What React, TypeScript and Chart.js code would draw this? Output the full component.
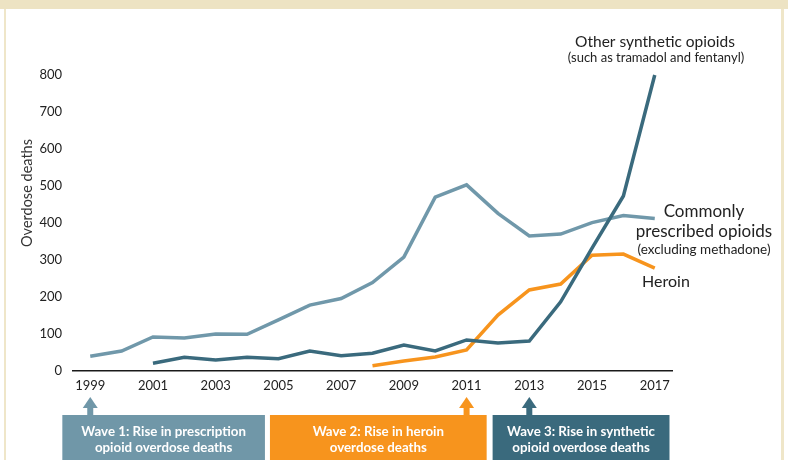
import React, { useEffect, useRef } from "react";
import { Chart, registerables } from "chart.js";

Chart.register(...registerables);

const years = [1999, 2000, 2001, 2002, 2003, 2004, 2005, 2006, 2007, 2008, 2009, 2010, 2011, 2012, 2013, 2014, 2015, 2016, 2017];
const tickYears = [1999, 2001, 2003, 2005, 2007, 2009, 2011, 2013, 2015, 2017];

const prescribed = [40, 54, 92, 89, 100, 99, 138, 178, 196, 239, 308, 470, 503, 426, 365, 370, 401, 420, 412];
const synthetic = [null, null, 21, 37, 30, 37, 33, 54, 41, 48, 70, 54, 84, 76, 81, 187, 332, 473, 800];
const heroin = [null, null, null, null, null, null, null, null, null, 14, 27, 38, 57, 151, 219, 235, 313, 316, 278];

const waves = [
  { year: 1999, from: 1998.11, to: 2004.57, lines: ["Wave 1: Rise in prescription", "opioid overdose deaths"], color: "#7097a8" },
  { year: 2011, from: 2004.73, to: 2011.64, lines: ["Wave 2: Rise in heroin", "overdose deaths"], color: "#f7941d" },
  { year: 2013, from: 2011.83, to: 2017.47, lines: ["Wave 3: Rise in synthetic", "opioid overdose deaths"], color: "#3a6a7d" },
];

const C_PRESC = "#7098aa";
const C_SYNTH = "#3a6a7d";
const C_HEROIN = "#f7941d";
const FONT = "Lato, 'Open Sans', sans-serif";

function pts(vals: (number | null)[]) {
  const out: { x: number; y: number }[] = [];
  vals.forEach((v, i) => {
    if (v !== null) out.push({ x: years[i], y: v });
  });
  return out;
}

const decor = {
  id: "decor",
  beforeDraw(chart: any) {
    const ctx = chart.ctx;
    ctx.save();
    ctx.fillStyle = "#ffffff";
    ctx.fillRect(0, 0, chart.width, chart.height);
    ctx.fillStyle = "#ede3c3";
    ctx.fillRect(0, 0, 788, 9);
    ctx.fillStyle = "#efe6c9";
    ctx.fillRect(4, 9, 2, 451);
    ctx.fillRect(781, 9, 3, 451);
    ctx.restore();
  },
  afterDraw(chart: any) {
    const ctx = chart.ctx;
    const xs = chart.scales.x;
    ctx.save();
    ctx.fillStyle = "#333";
    ctx.font = `14.5px ${FONT}`;
    ctx.textAlign = "center";
    ctx.textBaseline = "middle";
    ctx.translate(27, 193);
    ctx.rotate(-Math.PI / 2);
    ctx.fillText("Overdose deaths", 0, 0);
    ctx.restore();

    ctx.save();
    ctx.fillStyle = "#222";
    ctx.textAlign = "center";
    ctx.textBaseline = "middle";
    ctx.font = `15.5px ${FONT}`;
    ctx.fillText("Other synthetic opioids", 655, 42);
    ctx.font = `13px ${FONT}`;
    ctx.fillText("(such as tramadol and fentanyl)", 656, 58);

    ctx.font = `17px ${FONT}`;
    ctx.fillText("Commonly", 704, 212);
    ctx.fillText("prescribed opioids", 704, 232);
    ctx.font = `13.5px ${FONT}`;
    ctx.fillText("(excluding methadone)", 704, 250);
    ctx.font = `16px ${FONT}`;
    ctx.fillText("Heroin", 666, 282);

    waves.forEach((w) => {
      const l = xs.getPixelForValue(w.from);
      const r = xs.getPixelForValue(w.to);
      const ax = xs.getPixelForValue(w.year);
      ctx.fillStyle = w.color;
      ctx.fillRect(l, 415, r - l, 45);
      ctx.fillRect(ax - 3, 406, 6, 10);
      ctx.beginPath();
      ctx.moveTo(ax, 397);
      ctx.lineTo(ax + 7.5, 408);
      ctx.lineTo(ax - 7.5, 408);
      ctx.closePath();
      ctx.fill();
      ctx.fillStyle = "#ffffff";
      ctx.font = `bold 13.3px ${FONT}`;
      const cx = (l + r) / 2;
      ctx.fillText(w.lines[0], cx, 432);
      ctx.fillText(w.lines[1], cx, 448);
    });
    ctx.restore();
  },
};

export default function App() {
  const ref = useRef<HTMLCanvasElement>(null);
  useEffect(() => {
    if (!ref.current) return;
    const chart = new Chart(ref.current, {
      type: "line",
      data: {
        datasets: [
          { label: "Other synthetic opioids", data: pts(synthetic), borderColor: C_SYNTH, borderWidth: 3.5, pointRadius: 0, tension: 0, clip: false as any },
          { label: "Heroin", data: pts(heroin), borderColor: C_HEROIN, borderWidth: 3.5, pointRadius: 0, tension: 0, clip: false as any },
          { label: "Commonly prescribed opioids", data: pts(prescribed), borderColor: C_PRESC, borderWidth: 3.5, pointRadius: 0, tension: 0, clip: false as any },
        ],
      },
      options: {
        responsive: false,
        animation: false,
        layout: { padding: { top: 75, right: 116, left: 0, bottom: 0 } },
        plugins: { legend: { display: false }, tooltip: { enabled: false } },
        scales: {
          x: {
            type: "linear",
            min: 1998.45,
            max: 2017.55,
            afterBuildTicks: (s: any) => {
              s.ticks = tickYears.map((v) => ({ value: v }));
            },
            afterFit: (s: any) => {
              s.height = 89;
            },
            ticks: {
              callback: (v: any) => String(v),
              font: { family: FONT, size: 13 },
              color: "#222",
              padding: 7,
              maxRotation: 0,
              autoSkip: false,
            },
            grid: { display: false, drawTicks: false },
            border: { display: true, color: "#1a1a1a", width: 1.5 },
          },
          y: {
            min: 0,
            max: 800,
            afterFit: (s: any) => {
              s.width = 73;
            },
            ticks: {
              stepSize: 100,
              font: { family: FONT, size: 13 },
              color: "#222",
              padding: 11,
            },
            grid: { display: false, drawTicks: false },
            border: { display: false },
          },
        },
      },
      plugins: [decor],
    });
    return () => chart.destroy();
  }, []);
  return (
    <div style={{ position: "absolute", left: 0, top: 0, width: 788, height: 460 }}>
      <canvas ref={ref} width={788} height={460} style={{ display: "block" }} />
    </div>
  );
}
